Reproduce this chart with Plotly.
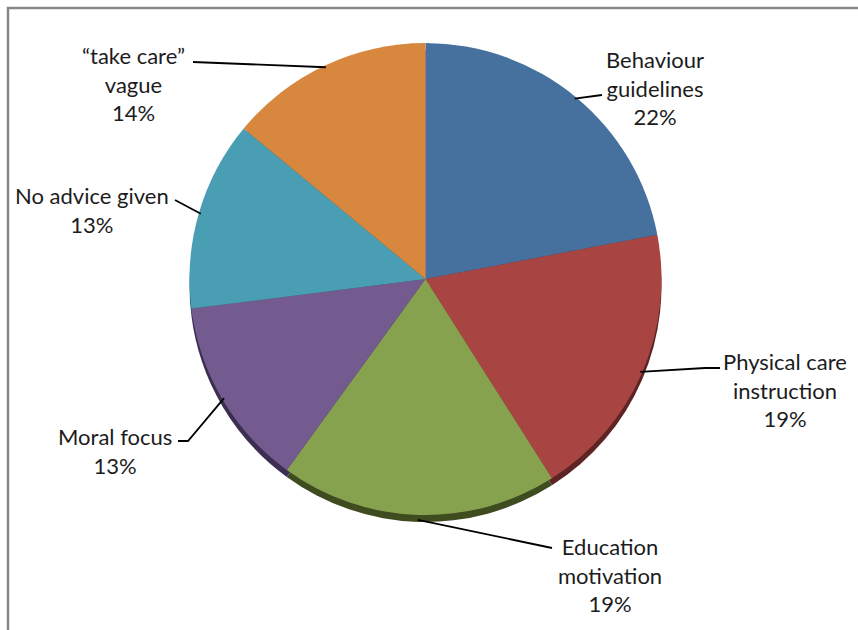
import numpy as np
import plotly.graph_objects as go

# ---- data ----
categories = ["Behaviour guidelines", "Physical care instruction", "Education motivation",
              "Moral focus", "No advice given", "\u201ctake care\u201d vague"]
label_text = ["Behaviour<br>guidelines", "Physical care<br>instruction", "Education<br>motivation",
              "Moral focus", "No advice given", "\u201ctake care\u201d<br>vague"]
values = [22, 19, 19, 13, 13, 14]

# ---- style ----
colors = ["#46719F", "#A84543", "#86A24E", "#735B90", "#4A9EB4", "#D8873F"]
rim_colors = ["#2B4566", "#5E2423", "#3F4C20", "#3C2E50", "#255866", "#7A4A20"]

W, H = 858, 630
CX, CY, R = 425.5, 279.0, 236.0
RIM = 7

# label placement (pixels): text centre, elbow point, end point near text
label_pos = [
    dict(tx=655, ty=88, ex=602, ey=95, bx=None, by=None),
    dict(tx=785, ty=390, ex=720, ey=368, bx=705, by=368),
    dict(tx=610, ty=575, ex=552, ey=548, bx=None, by=None),
    dict(tx=115, ty=451, ex=178, ey=441, bx=188, by=441),
    dict(tx=92, ty=210, ex=175, ey=200, bx=None, by=None),
    dict(tx=133, ty=84, ex=193, ey=62, bx=None, by=None),
]

def px(x):
    return x / W

def py(y):
    return 1 - y / H

fig = go.Figure()

# rim (3D edge) pie, shifted down
fig.add_trace(go.Pie(
    labels=categories, values=values, sort=False, direction="clockwise", rotation=0,
    marker=dict(colors=rim_colors, line=dict(width=0)), textinfo="none",
    hoverinfo="skip", showlegend=False,
    domain=dict(x=[px(CX - R), px(CX + R)], y=[py(CY + RIM + R), py(CY + RIM - R)]),
))
fig.add_trace(go.Pie(
    labels=categories, values=values, sort=False, direction="clockwise", rotation=0,
    marker=dict(colors=colors, line=dict(width=0)), textinfo="none",
    showlegend=False,
    domain=dict(x=[px(CX - R), px(CX + R)], y=[py(CY + R), py(CY - R)]),
))

# leader lines computed from slice mid-angles
total = float(sum(values))
cum = np.cumsum([0] + values[:-1])
shapes = []
annotations = []
for i, v in enumerate(values):
    mid = (cum[i] + v / 2.0) / total * 2 * np.pi
    rr = R + (RIM if abs(np.cos(mid)) > 0.9 and np.cos(mid) < 0 else 0) - 2
    ax = CX + rr * np.sin(mid)
    ay = CY - rr * np.cos(mid)
    lp = label_pos[i]
    pts = [(ax, ay)]
    if lp["bx"] is not None:
        pts.append((lp["bx"], lp["by"]))
    pts.append((lp["ex"], lp["ey"]))
    path = "M " + " L ".join(f"{px(x):.5f},{py(y):.5f}" for x, y in pts)
    shapes.append(dict(type="path", path=path, xref="paper", yref="paper",
                       line=dict(color="#000000", width=1.8)))
    annotations.append(dict(
        x=px(lp["tx"]), y=py(lp["ty"]), xref="paper", yref="paper",
        text=f"{label_text[i]}<br>{v}%", showarrow=False, align="center",
        xanchor="center", yanchor="middle",
        font=dict(family="Lato, Carlito, sans-serif", size=22, color="#1c1c1c"),
    ))

# chart frame (left and top edges visible)
shapes.append(dict(type="rect", xref="paper", yref="paper",
                   x0=px(8), y0=py(640), x1=px(870), y1=py(8),
                   line=dict(color="#878787", width=2.5), layer="below"))

fig.update_layout(
    width=W, height=H, margin=dict(l=0, r=0, t=0, b=0),
    paper_bgcolor="white", plot_bgcolor="white",
    shapes=shapes, annotations=annotations, showlegend=False,
)

fig.write_html("out.html")
